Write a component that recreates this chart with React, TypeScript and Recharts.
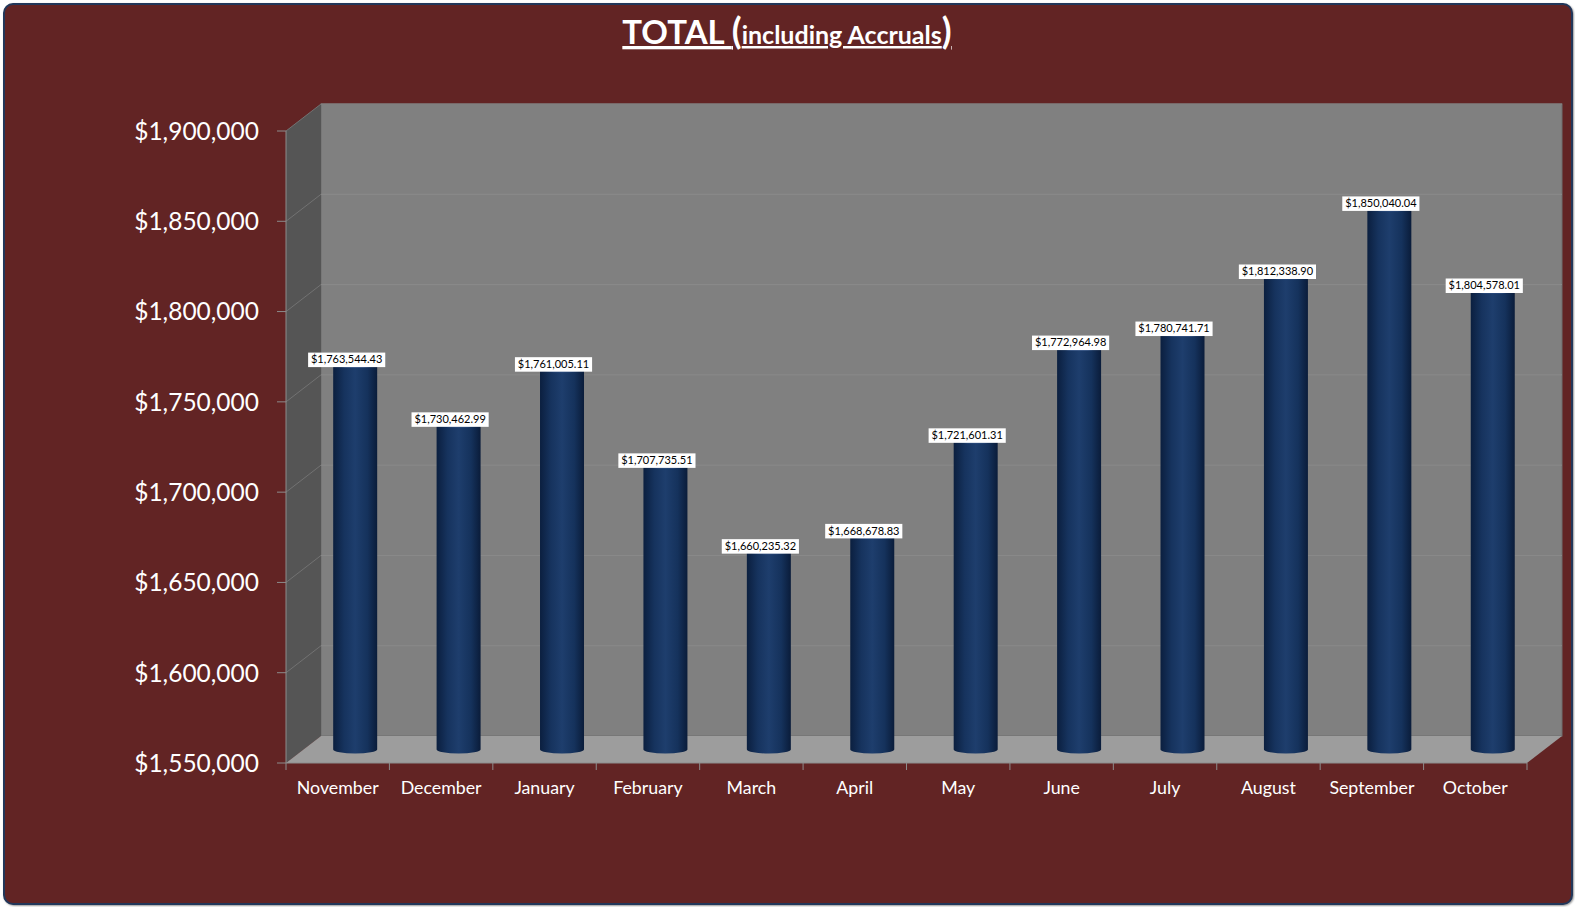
import { BarChart, Bar, XAxis, YAxis, ReferenceArea, ReferenceLine, LabelList } from 'recharts';

const months = ['November', 'December', 'January', 'February', 'March', 'April', 'May', 'June', 'July', 'August', 'September', 'October'];
const totals = [1763544.43, 1730462.99, 1761005.11, 1707735.51, 1660235.32, 1668678.83, 1721601.31, 1772964.98, 1780741.71, 1812338.9, 1850040.04, 1804578.01];
const yTicks = [1550000, 1600000, 1650000, 1700000, 1750000, 1800000, 1850000, 1900000];

const data = months.map((month, i) => ({ month, total: totals[i] }));

// fake 3D: back wall offset, bars sit half way in
const DEPTH_X = 35;
const DEPTH_Y = 27;
const BAR_DX = 17.5;
const BAR_DY = -13.5;
const FONT = 'Lato, "Open Sans", sans-serif';

const money = (v: number) =>
  v.toLocaleString('en-US', { style: 'currency', currency: 'USD', minimumFractionDigits: 2 });
const axisMoney = (v: number) =>
  v.toLocaleString('en-US', { style: 'currency', currency: 'USD', maximumFractionDigits: 0 });

function Walls(props: any) {
  const { x, y, width, height } = props;
  if (x == null || width == null) return null;
  const b = y + height;
  return (
    <g>
      <rect x={x + DEPTH_X} y={y - DEPTH_Y} width={width} height={height} fill="#808080" stroke="#6e6e6e" />
      <polygon
        points={`${x},${y} ${x + DEPTH_X},${y - DEPTH_Y} ${x + DEPTH_X},${b - DEPTH_Y} ${x},${b}`}
        fill="#555555"
      />
      <polygon
        points={`${x},${b} ${x + DEPTH_X},${b - DEPTH_Y} ${x + width + DEPTH_X},${b - DEPTH_Y} ${x + width},${b}`}
        fill="#9d9d9d"
      />
    </g>
  );
}

function GridLine(props: any) {
  const { x1, y1, x2 } = props;
  if (x1 == null || y1 == null) return null;
  return (
    <g>
      <line x1={x1} y1={y1} x2={x1 + DEPTH_X} y2={y1 - DEPTH_Y} stroke="#727272" strokeWidth={1} />
      <line x1={x1 + DEPTH_X} y1={y1 - DEPTH_Y} x2={x2 + DEPTH_X} y2={y1 - DEPTH_Y} stroke="#8a8a8a" strokeWidth={1} />
    </g>
  );
}

function Cylinder(props: any) {
  const { x, y, width, height } = props;
  if (x == null || width == null || height == null) return null;
  const left = x + BAR_DX;
  const top = y + BAR_DY;
  const bottom = y + height + BAR_DY;
  const ry = 4;
  return (
    <g>
      <path
        d={`M${left},${top} L${left},${bottom} A${width / 2},${ry} 0 0 0 ${left + width},${bottom} L${left + width},${top} Z`}
        fill="url(#cylFill)"
      />
      <ellipse cx={left + width / 2} cy={top} rx={width / 2} ry={ry} fill="#2a4a7c" />
    </g>
  );
}

function ValueTag(props: any) {
  const vb = props.viewBox && props.viewBox.x != null ? props.viewBox : props;
  const { x, y, width } = vb;
  if (x == null || props.value == null) return null;
  const text = money(Number(props.value));
  const cx = x + width / 2 + BAR_DX - 8.5;
  const w = text.length * 5.55 + 5;
  const h = 14.5;
  const bottom = y - 10.3;
  return (
    <g>
      <rect x={cx - w / 2} y={bottom - h} width={w} height={h} fill="#ffffff" />
      <text x={cx} y={bottom - 3.6} textAnchor="middle" fontSize={11} fontFamily={FONT} fill="#000000">
        {text}
      </text>
    </g>
  );
}

function YTick(props: any) {
  const { x, y, payload } = props;
  return (
    <text x={x} y={y} dy="0.36em" textAnchor="end" fill="#ffffff" fontSize={24.5} fontFamily={FONT}>
      {axisMoney(payload.value)}
    </text>
  );
}

function XTick(props: any) {
  const { x, y, payload, index, visibleTicksCount, width } = props;
  const half = payload.offset ?? (width ?? 0) / (visibleTicksCount || 12) / 2;
  const last = index === (visibleTicksCount ?? 12) - 1;
  return (
    <g>
      <line x1={x - half} y1={y} x2={x - half} y2={y + 7} stroke="#8c8c8c" />
      {last && <line x1={x + half} y1={y} x2={x + half} y2={y + 7} stroke="#8c8c8c" />}
      <text x={x} y={y + 31} textAnchor="middle" fill="#ffffff" fontSize={17.8} fontFamily={FONT}>
        {payload.value}
      </text>
    </g>
  );
}

export default function App() {
  return (
    <div style={{ position: 'absolute', left: 0, top: 0, width: 1575, height: 907, background: '#ffffff' }}>
      <div
        style={{
          position: 'absolute',
          left: 3,
          top: 3,
          width: 1570,
          height: 902,
          boxSizing: 'border-box',
          background: '#622424',
          border: '2px solid #22375a',
          borderRadius: 10,
          boxShadow: '1px 1px 2px rgba(0,0,0,0.4)',
        }}
      />
      <svg width={1575} height={70} style={{ position: 'absolute', left: 0, top: 0 }}>
        <text
          x={787}
          y={44}
          textAnchor="middle"
          fill="#ffffff"
          fontFamily={FONT}
          fontWeight="bold"
          style={{ textDecoration: 'underline' }}
        >
          <tspan fontSize={33}>TOTAL </tspan>
          <tspan fontSize={36}>(</tspan>
          <tspan fontSize={25}>including Accruals</tspan>
          <tspan fontSize={36}>)</tspan>
        </text>
      </svg>
      <div style={{ position: 'absolute', left: 0, top: 0 }}>
        <BarChart
          width={1575}
          height={907}
          data={data}
          margin={{ top: 131, right: 48, left: 136, bottom: 104 }}
          barCategoryGap="28.7%"
        >
          <defs>
            <linearGradient id="cylFill" x1="0" y1="0" x2="1" y2="0">
              <stop offset="0%" stopColor="#0b1f3f" />
              <stop offset="25%" stopColor="#16335e" />
              <stop offset="50%" stopColor="#1e3e6d" />
              <stop offset="78%" stopColor="#15325c" />
              <stop offset="100%" stopColor="#0a1c3a" />
            </linearGradient>
          </defs>
          <ReferenceArea y1={1550000} y2={1900000} shape={Walls} zIndex={-90} ifOverflow="visible" />
          {yTicks.slice(1).map((t) => (
            <ReferenceLine key={t} y={t} shape={GridLine} zIndex={-80} />
          ))}
          <XAxis
            dataKey="month"
            height={40}
            interval={0}
            tickLine={false}
            tickSize={0}
            tickMargin={0}
            axisLine={{ stroke: '#8c8c8c' }}
            tick={XTick}
          />
          <YAxis
            width={150}
            domain={[1550000, 1900000]}
            ticks={yTicks}
            allowDataOverflow
            tickSize={9}
            tickMargin={18}
            tickLine={{ stroke: '#8c8c8c' }}
            axisLine={{ stroke: '#8c8c8c' }}
            tick={YTick}
          />
          <Bar dataKey="total" shape={Cylinder} isAnimationActive={false}>
            <LabelList dataKey="total" content={ValueTag} />
          </Bar>
        </BarChart>
      </div>
    </div>
  );
}
